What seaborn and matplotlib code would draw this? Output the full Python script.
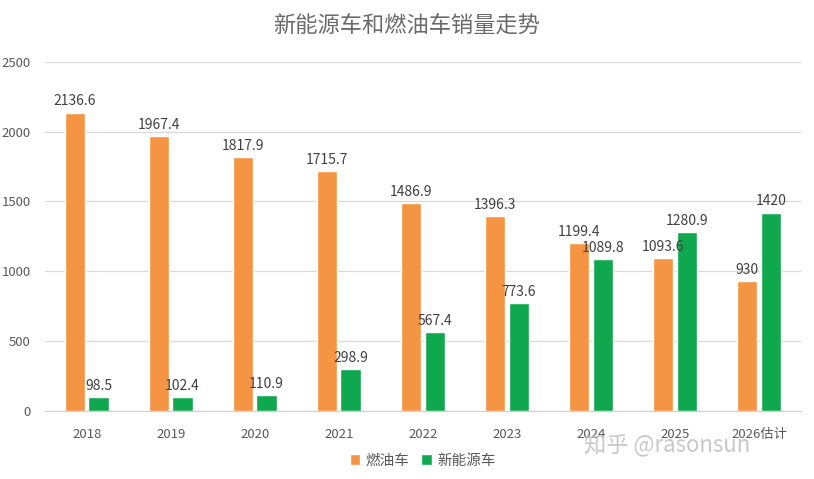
import pandas as pd
import seaborn as sns
import matplotlib.pyplot as plt

# data
years = ['2018', '2019', '2020', '2021', '2022', '2023', '2024', '2025', '2026估计']
fuel_cars = [2136.6, 1967.4, 1817.9, 1715.7, 1486.9, 1396.3, 1199.4, 1093.6, 930]
nev_cars = [98.5, 102.4, 110.9, 298.9, 567.4, 773.6, 1089.8, 1280.9, 1420]
series_names = ['燃油车', '新能源车']

df = pd.DataFrame({'year': years * 2,
                   'sales': fuel_cars + nev_cars,
                   'type': [series_names[0]] * len(years) + [series_names[1]] * len(years)})

sns.set_style('white')
plt.rcParams['font.family'] = ['Noto Sans CJK SC', 'DejaVu Sans']

palette = {'燃油车': '#F59443', '新能源车': '#0FA84E'}

fig = plt.figure(figsize=(8.14, 4.79), dpi=100)
ax = fig.add_axes([0.055, 0.142, 0.929, 0.729])

sns.barplot(data=df, x='year', y='sales', hue='type', palette=palette,
            width=0.56, gap=0.14, saturation=1, ax=ax, legend=True)

for cont in ax.containers:
    labels = ['%g' % v for v in cont.datavalues]
    ax.bar_label(cont, labels=labels, padding=3, fontsize=10, color='#404040')

ax.set_ylim(0, 2500)
ax.set_yticks(range(0, 2501, 500))
ax.set_xlim(-0.5, len(years) - 0.5)
ax.yaxis.grid(True, color='#D9D9D9', linewidth=0.9)
ax.set_axisbelow(True)
for s in ['top', 'right', 'left']:
    ax.spines[s].set_visible(False)
ax.spines['bottom'].set_color('#D0D0D0')
ax.tick_params(axis='both', length=0, labelsize=9.5, colors='#595959')
ax.tick_params(axis='x', pad=12)
ax.tick_params(axis='y', pad=10)
ax.set_xlabel('')
ax.set_ylabel('')

leg = ax.legend(loc='lower center', bbox_to_anchor=(0.5, -0.2), ncol=2, frameon=False,
                handlelength=0.7, handleheight=0.7, handletextpad=0.4, columnspacing=0.8,
                fontsize=10.5, labelcolor='#595959')

fig.text(0.5, 0.945, '新能源车和燃油车销量走势', ha='center', va='center',
         fontsize=16, color='#6A6A6A', fontweight='light')

# watermark
fig.text(0.82, 0.07, '知乎 @rasonsun', ha='center', va='center', fontsize=16,
         color='#BFBFBF', alpha=0.85)

fig.savefig('out.png', dpi=100)
